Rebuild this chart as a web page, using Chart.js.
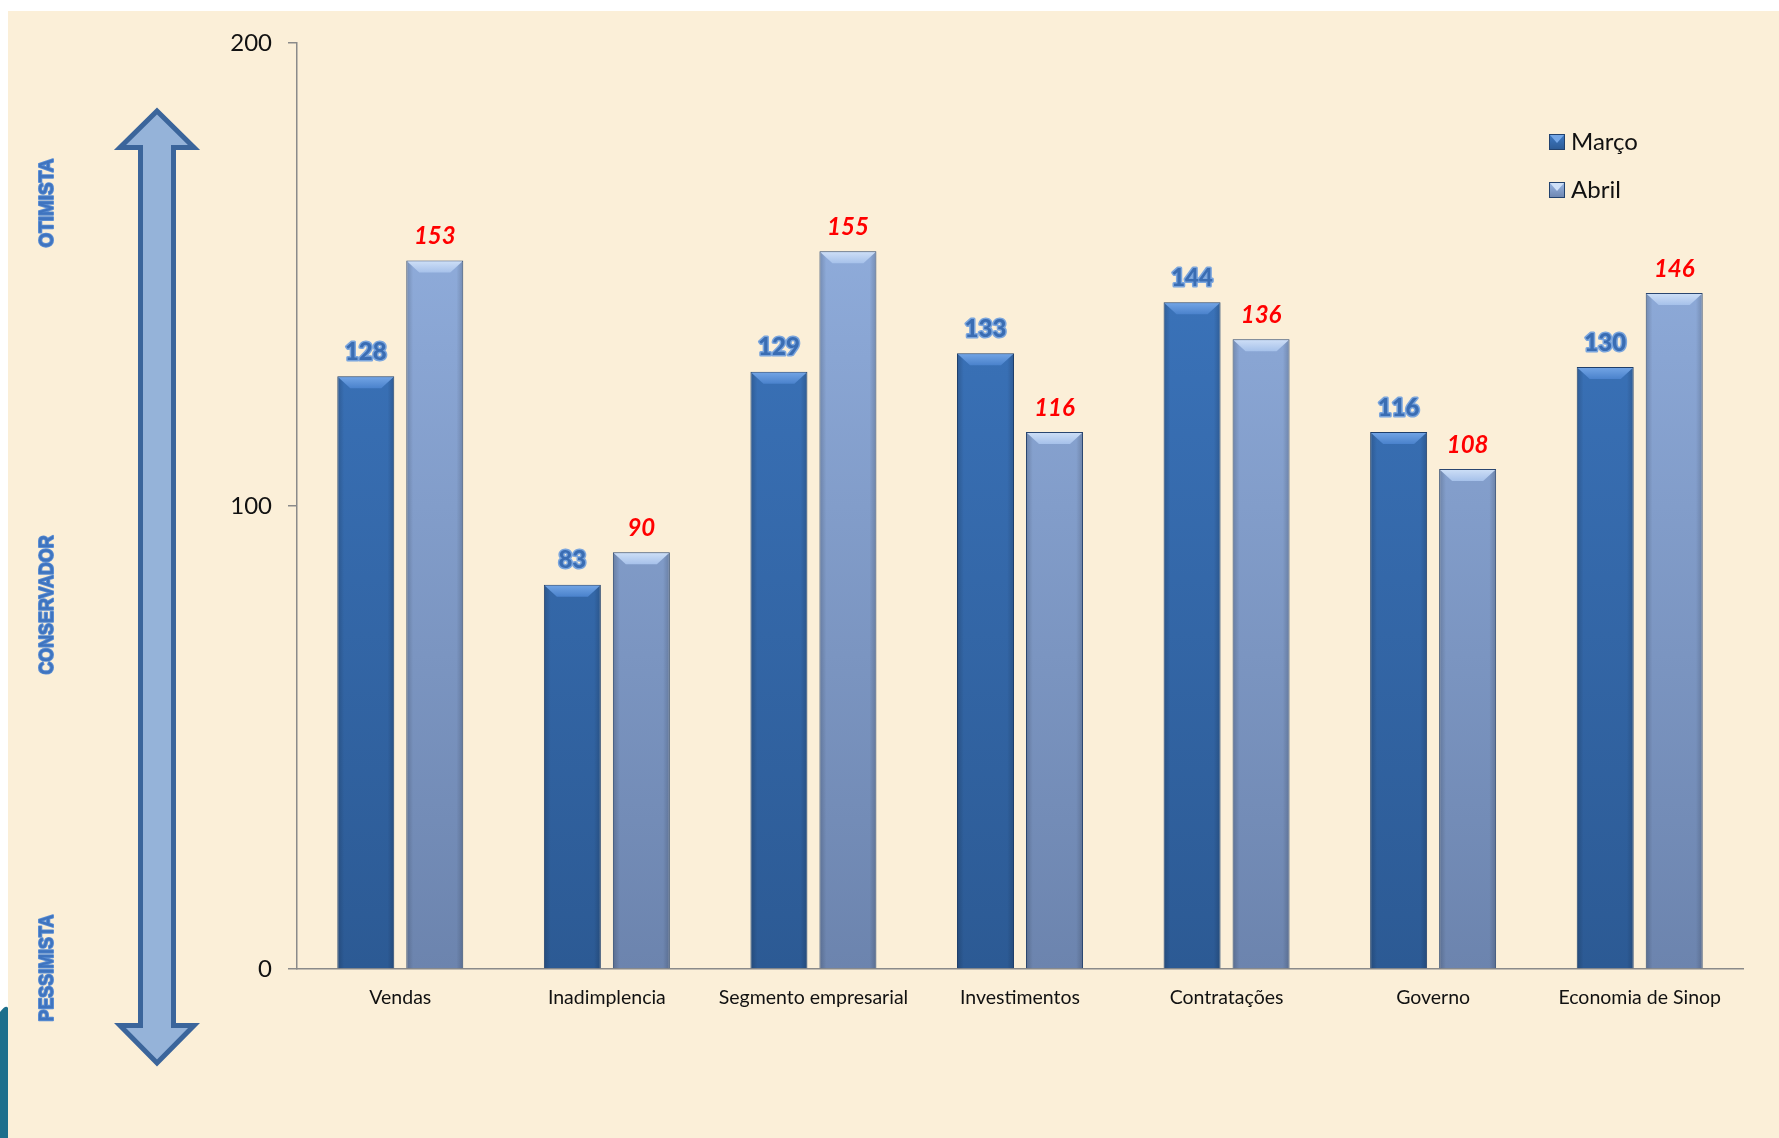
<!DOCTYPE html>
<html>
<head>
<meta charset="utf-8">
<script src="https://cdn.jsdelivr.net/npm/chart.js@4.4.1/dist/chart.umd.min.js"></script>
<style>
html,body{margin:0;padding:0;background:#fff;}
#wrap{width:1779px;height:1138px;position:relative;}
</style>
</head>
<body>
<div id="wrap"><canvas id="c" width="1779" height="1138"></canvas></div>
<script>
const categories = ["Vendas","Inadimplencia","Segmento empresarial","Investimentos","Contratações","Governo","Economia de Sinop"];
const marco = [128, 83, 129, 133, 144, 116, 130];
const abril = [153, 90, 155, 116, 136, 108, 146];
const seriesNames = ["Março", "Abril"];
const yTicks = [0, 100, 200];
const sideLabels = ["OTIMISTA", "CONSERVADOR", "PESSIMISTA"];

const FONT = "Lato, 'Open Sans', sans-serif";

function vGrad(ctx, area, top, bottom) {
  if (!area) return top;
  const g = ctx.createLinearGradient(0, area.top, 0, area.bottom);
  g.addColorStop(0, top);
  g.addColorStop(1, bottom);
  return g;
}

const bgPlugin = {
  id: 'bg',
  beforeDraw(chart) {
    const ctx = chart.ctx;
    ctx.save();
    ctx.fillStyle = '#ffffff';
    ctx.fillRect(0, 0, chart.width, chart.height);
    ctx.fillStyle = '#fbefd8';
    ctx.fillRect(8, 11, chart.width - 8, chart.height - 11);
    // teal sliver bottom-left
    ctx.fillStyle = '#1d6f8c';
    ctx.beginPath();
    ctx.moveTo(0, 1012);
    ctx.quadraticCurveTo(6, 1004, 8, 1008);
    ctx.lineTo(8, 1138);
    ctx.lineTo(0, 1138);
    ctx.closePath();
    ctx.fill();
    // double arrow
    const L = 140.5, R = 173.5, WL = 120, WR = 194, cx = 157;
    ctx.beginPath();
    ctx.moveTo(cx, 111);
    ctx.lineTo(WR, 147.5);
    ctx.lineTo(R, 147.5);
    ctx.lineTo(R, 1025.5);
    ctx.lineTo(WR, 1025.5);
    ctx.lineTo(cx, 1063);
    ctx.lineTo(WL, 1025.5);
    ctx.lineTo(L, 1025.5);
    ctx.lineTo(L, 147.5);
    ctx.lineTo(WL, 147.5);
    ctx.closePath();
    ctx.fillStyle = '#95b3d9';
    ctx.fill();
    ctx.lineWidth = 5;
    ctx.lineJoin = 'miter';
    ctx.strokeStyle = '#3b659b';
    ctx.stroke();
    // side labels
    const pos = [[203, 89], [605, 139], [968, 107]];
    ctx.font = "bold 21px 'Liberation Sans', Arial, sans-serif";
    ctx.textAlign = 'center';
    ctx.textBaseline = 'middle';
    sideLabels.forEach((t, i) => {
      const w = ctx.measureText(t).width;
      ctx.save();
      ctx.translate(47, pos[i][0]);
      ctx.rotate(-Math.PI / 2);
      ctx.scale(pos[i][1] / w, 1);
      ctx.lineWidth = 2;
      ctx.lineJoin = 'round';
      ctx.strokeStyle = '#5b8ed4';
      ctx.strokeText(t, 0, 0);
      ctx.fillStyle = '#3f74bf';
      ctx.fillText(t, 0, 0);
      ctx.restore();
    });
    ctx.restore();
  }
};

const fxPlugin = {
  id: 'fx',
  afterDatasetsDraw(chart) {
    const ctx = chart.ctx;
    const bevel = [['#74a6e6', '#4a82cc'], ['#cfe0f7', '#a6c1ea']];
    chart.data.datasets.forEach((ds, di) => {
      const meta = chart.getDatasetMeta(di);
      meta.data.forEach((bar, i) => {
        const w = bar.width, L = bar.x - w / 2, R = bar.x + w / 2, T = bar.y, B = bar.base;
        ctx.save();
        const hg = ctx.createLinearGradient(L, 0, R, 0);
        hg.addColorStop(0, 'rgba(0,0,0,0.18)');
        hg.addColorStop(0.12, 'rgba(0,0,0,0)');
        hg.addColorStop(0.88, 'rgba(0,0,0,0)');
        hg.addColorStop(1, 'rgba(0,0,0,0.18)');
        ctx.fillStyle = hg;
        ctx.fillRect(L + 1, T + 1, w - 2, B - T - 1);
        const b = 12;
        const g = ctx.createLinearGradient(0, T, 0, T + b);
        g.addColorStop(0, bevel[di][0]);
        g.addColorStop(1, bevel[di][1]);
        ctx.beginPath();
        ctx.moveTo(L + 1, T + 1);
        ctx.lineTo(R - 1, T + 1);
        ctx.lineTo(R - 1 - b, T + b);
        ctx.lineTo(L + 1 + b, T + b);
        ctx.closePath();
        ctx.fillStyle = g;
        ctx.fill();
        ctx.restore();
        const v = ds.data[i];
        ctx.save();
        ctx.textAlign = 'center';
        ctx.textBaseline = 'middle';
        if (di === 0) {
          ctx.font = "900 24px " + FONT;
          ctx.lineWidth = 3;
          ctx.lineJoin = 'round';
          ctx.strokeStyle = '#7aa5dd';
          ctx.strokeText(String(v), bar.x, T - 24);
          ctx.fillStyle = '#3a6db3';
          ctx.fillText(String(v), bar.x, T - 24);
        } else {
          ctx.font = "italic bold 24px " + FONT;
          ctx.fillStyle = '#ff0000';
          ctx.fillText(String(v), bar.x, T - 24);
        }
        ctx.restore();
      });
    });
    const cols = [['#3f7bc6', '#2c5a94', '#74a6e6'], ['#9ab8e6', '#6c84ae', '#cfe0f7']];
    seriesNames.forEach((n, i) => {
      const y = 142 + i * 48;
      const x = 1549, s = 16;
      ctx.save();
      const g = ctx.createLinearGradient(0, y - s / 2, 0, y + s / 2);
      g.addColorStop(0, cols[i][0]);
      g.addColorStop(1, cols[i][1]);
      ctx.fillStyle = g;
      ctx.fillRect(x, y - s / 2, s, s);
      ctx.fillStyle = cols[i][2];
      ctx.beginPath();
      ctx.moveTo(x + 1, y - s / 2 + 1);
      ctx.lineTo(x + s - 1, y - s / 2 + 1);
      ctx.lineTo(x + s / 2, y + 1);
      ctx.closePath();
      ctx.fill();
      ctx.strokeStyle = '#22426e';
      ctx.lineWidth = 1;
      ctx.strokeRect(x + 0.5, y - s / 2 + 0.5, s - 1, s - 1);
      ctx.fillStyle = '#111';
      ctx.font = "24px " + FONT;
      ctx.textAlign = 'left';
      ctx.textBaseline = 'middle';
      ctx.fillText(n, 1571, y);
      ctx.restore();
    });
  }
};

new Chart(document.getElementById('c'), {
  type: 'bar',
  data: {
    labels: categories,
    datasets: [
      {
        label: seriesNames[0],
        data: marco,
        backgroundColor: (c) => vGrad(c.chart.ctx, c.chart.chartArea, '#3f7bc6', '#2c5a94'),
        borderColor: '#1f3f6b',
        borderWidth: 1,
        categoryPercentage: 0.668,
        barPercentage: 0.826
      },
      {
        label: seriesNames[1],
        data: abril,
        backgroundColor: (c) => vGrad(c.chart.ctx, c.chart.chartArea, '#98b6e6', '#6c84ae'),
        borderColor: '#2a4670',
        borderWidth: 1,
        categoryPercentage: 0.668,
        barPercentage: 0.826
      }
    ]
  },
  options: {
    responsive: false,
    devicePixelRatio: 1,
    animation: false,
    layout: { padding: { left: 227, right: 36, top: 43, bottom: 0 } },
    plugins: { legend: { display: false }, tooltip: { enabled: false } },
    scales: {
      x: {
        grid: { display: false, drawTicks: false },
        border: { display: true, color: '#8a8a8a', width: 1.5 },
        ticks: { color: '#111', font: { family: FONT, size: 19.5 }, padding: 17, maxRotation: 0, autoSkip: false },
        afterFit: (s) => { s.height = 169; }
      },
      y: {
        min: 0, max: 200,
        afterBuildTicks: (s) => { s.ticks = yTicks.map(v => ({ value: v })); },
        grid: { drawOnChartArea: false, drawTicks: true, tickLength: 9, color: '#8a8a8a', lineWidth: 1.5 },
        border: { display: true, color: '#8a8a8a', width: 1.5 },
        ticks: { color: '#111', font: { family: FONT, size: 24 }, padding: 16 },
        afterFit: (s) => { s.width = 70; }
      }
    }
  },
  plugins: [bgPlugin, fxPlugin]
});
</script>
</body>
</html>
